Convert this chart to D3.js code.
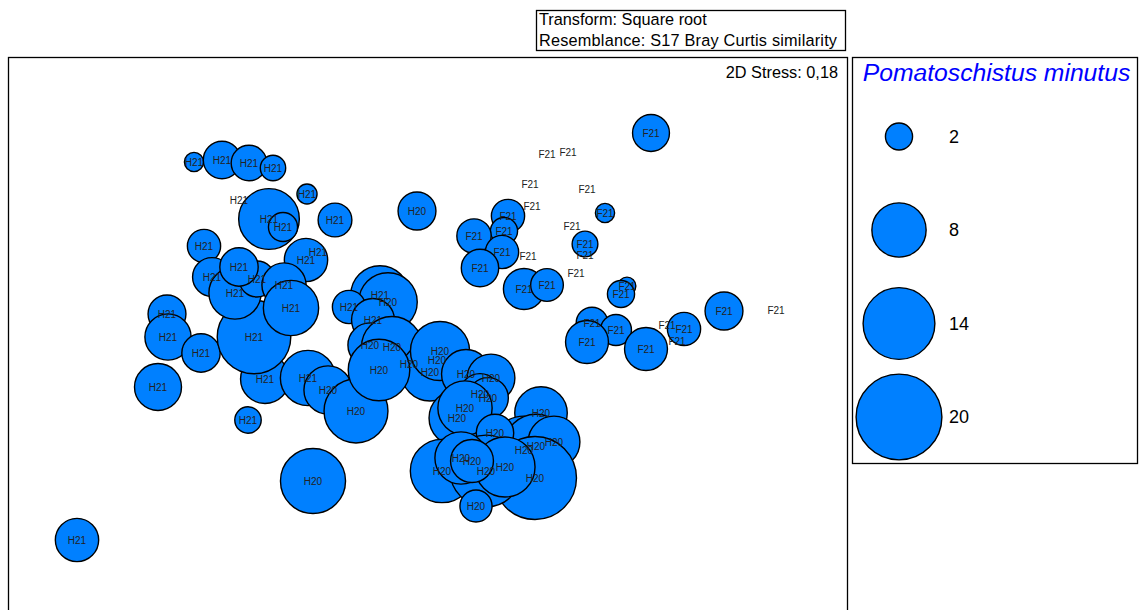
<!DOCTYPE html>
<html>
<head>
<meta charset="utf-8">
<script src="https://cdn.jsdelivr.net/npm/d3@7"></script>
<style>
  html, body { margin: 0; padding: 0; background: #fff; }
  svg { display: block; font-family: "Liberation Sans", Arial, sans-serif; }
</style>
</head>
<body>
<svg id="chart" width="1140" height="610"></svg>
<script>
// nMDS ordination of samples; bubble area shows Pomatoschistus minutus abundance
const sampleLabels = [
  // F21
  "F21","F21","F21","F21","F21","F21","F21","F21","F21","F21",
  "F21","F21","F21","F21","F21","F21","F21","F21","F21","F21",
  "F21","F21","F21","F21","F21","F21","F21","F21","F21","F21",
  // H21
  "H21","H21","H21","H21","H21","H21","H21","H21","H21","H21",
  "H21","H21","H21","H21","H21","H21","H21","H21","H21","H21",
  "H21","H21","H21","H21","H21","H21","H21",
  // H20 and neighbours
  "H20","H21","H20","H21","H21","H20","H20","H20","H20","H20",
  "H20","H20","H20","H20","H20","H20","H20","H20","H20","H20",
  "H20","H20","H20","H20","H20","H20","H20","H20","H20","H20",
  "H20","H20","H20"
];
const mds1 = [
  1.115, 0.595, 0.700, 0.510, 0.795, 0.520, 0.885, 0.400, 0.380, 0.230,
  0.720, 0.785, 0.785, 0.370, 0.500, 0.260, 0.740, 0.480, 0.595, 0.995,
  0.965, 0.820, 0.940, 0.795, 1.090, 1.280, 1.195, 1.245, 1.480, 1.740,
  -1.170, -1.030, -0.895, -0.775, -0.945, -0.795, -0.725, -0.605, -0.465, -1.120,
  -0.610, -0.550, -1.305, -1.300, -1.135, -0.815, -0.870, -1.080, -0.965, -0.855,
  -0.945, -0.720, -0.685, -0.600, -1.350, -0.900, -1.755,
  -0.055, -0.240, -0.200, -0.395, -0.275, -0.290, -0.095, 0.045, -0.180, 0.010,
  0.060, -0.500, -0.360, -0.245, 0.190, 0.315, 0.260, 0.300, 0.145, 0.185,
  0.565, -0.575, 0.480, 0.540, 0.630, 0.335, 0.535, 0.070, 0.290, 0.385,
  0.165, 0.220, 0.240
];
const mds2 = [
  0.985, 0.880, 0.890, 0.730, 0.705, 0.620, 0.585, 0.570, 0.495, 0.470,
  0.520, 0.375, 0.430, 0.390, 0.370, 0.310, 0.285, 0.205, 0.225, 0.220,
  0.180, 0.035, 0.000, -0.060, -0.095, 0.005, 0.025, -0.055, 0.095, 0.100,
  0.840, 0.850, 0.835, 0.810, 0.650, 0.555, 0.515, 0.680, 0.550, 0.420,
  0.350, 0.390, 0.080, -0.035, -0.115, -0.245, -0.035, 0.265, 0.185, 0.255,
  0.315, 0.225, 0.110, -0.240, -0.285, -0.450, -1.050,
  0.595, 0.175, 0.140, 0.115, 0.050, -0.075, -0.170, -0.150, -0.085, -0.210,
  -0.105, -0.300, -0.405, -0.200, -0.220, -0.240, -0.320, -0.340, -0.440, -0.390,
  -0.415, -0.755, -0.600, -0.580, -0.560, -0.515, -0.740, -0.705, -0.705, -0.685,
  -0.640, -0.655, -0.880
];
const abundance = [
  3.7, 0, 0, 0, 0, 0, 1.0, 3.0, 2.0, 3.2,
  0, 0, 1.8, 3.0, 0, 3.8, 0, 4.6, 2.9, 0.85,
  2.0, 2.7, 2.6, 5.0, 5.0, 3.0, 0, 0, 3.9, 0,
  1.0, 3.8, 3.45, 1.75, 0, 10.0, 2.3, 1.1, 3.1, 3.0,
  5.1, 0, 3.9, 5.8, 4.0, 6.5, 14.7, 4.1, 7.4, 3.5,
  4.0, 5.3, 8.3, 8.3, 6.0, 1.9, 5.1,
  3.9, 9.3, 9.3, 3.0, 5.0, 5.3, 5.0, 9.0, 10.1, 9.1,
  9.5, 6.3, 11.1, 10.3, 6.5, 6.2, 4.5, 4.5, 8.5, 8.0,
  7.5, 11.5, 12.5, 11.0, 7.3, 3.8, 18.7, 10.9, 14.0, 9.8,
  7.4, 5.0, 2.8
];
const legendValues = [2, 8, 14, 20];
const legendTitle = "Pomatoschistus minutus";
const infoLines = ["Transform: Square root", "Resemblance: S17 Bray Curtis similarity"];
const stressText = "2D Stress: 0,18";

const samples = sampleLabels.map((label, i) => ({
  label, x: mds1[i], y: mds2[i], v: abundance[i]
}));

const svg = d3.select("#chart");
const fill = "#0080ff";

const x = d3.scaleLinear().domain([-2.1, 2.1]).range([8, 848]);
const y = d3.scaleLinear().domain([1.365, -1.41]).range([57, 612]);
const r = d3.scaleSqrt().domain([0, 20]).range([0, 42.9]);

// plot frame
svg.append("rect")
  .attr("x", 8.5).attr("y", 57.5).attr("width", 839).attr("height", 560)
  .attr("fill", "none").attr("stroke", "#000").attr("stroke-width", 1.3);

// info box
const info = svg.append("g");
info.append("rect")
  .attr("x", 536.5).attr("y", 10.5).attr("width", 309).attr("height", 40)
  .attr("fill", "#fff").attr("stroke", "#000").attr("stroke-width", 1.3);
info.selectAll("text").data(infoLines).join("text")
  .attr("x", 539).attr("y", (d, i) => 25 + i * 21)
  .attr("font-size", 16.3).attr("fill", "#000")
  .attr("textLength", (d, i) => i === 1 ? 298 : null)
  .text(d => d);

svg.append("text")
  .attr("x", 838).attr("y", 78).attr("text-anchor", "end")
  .attr("font-size", 16.3).attr("fill", "#000")
  .text(stressText);

// bubbles first, then every sample label on top
const plot = svg.append("g");
plot.selectAll("circle").data(samples.filter(d => d.v > 0)).join("circle")
  .attr("cx", d => x(d.x)).attr("cy", d => y(d.y)).attr("r", d => r(d.v))
  .attr("fill", fill).attr("stroke", "#000").attr("stroke-width", 1.4);
plot.selectAll("text").data(samples).join("text")
  .attr("x", d => x(d.x)).attr("y", d => y(d.y))
  .attr("dy", "0.35em").attr("text-anchor", "middle")
  .attr("font-size", 10).attr("fill", "#222")
  .text(d => d.label);

// legend
const leg = svg.append("g");
leg.append("rect")
  .attr("x", 852.5).attr("y", 57.5).attr("width", 285).attr("height", 406)
  .attr("fill", "#fff").attr("stroke", "#000").attr("stroke-width", 1.3);
leg.append("text")
  .attr("x", 996.5).attr("y", 81).attr("text-anchor", "middle")
  .attr("font-size", 24.7).attr("font-style", "italic").attr("fill", "#0000ff")
  .text(legendTitle);
const ly = d3.scalePoint().domain(legendValues).range([136.5, 417]);
const li = leg.selectAll("g.li").data(legendValues).join("g").attr("class", "li");
li.append("circle")
  .attr("cx", 899).attr("cy", d => ly(d)).attr("r", d => r(d))
  .attr("fill", fill).attr("stroke", "#000").attr("stroke-width", 1.4);
li.append("text")
  .attr("x", 949).attr("y", d => ly(d)).attr("dy", "0.35em")
  .attr("font-size", 18).attr("fill", "#000")
  .text(d => d);
</script>
</body>
</html>
